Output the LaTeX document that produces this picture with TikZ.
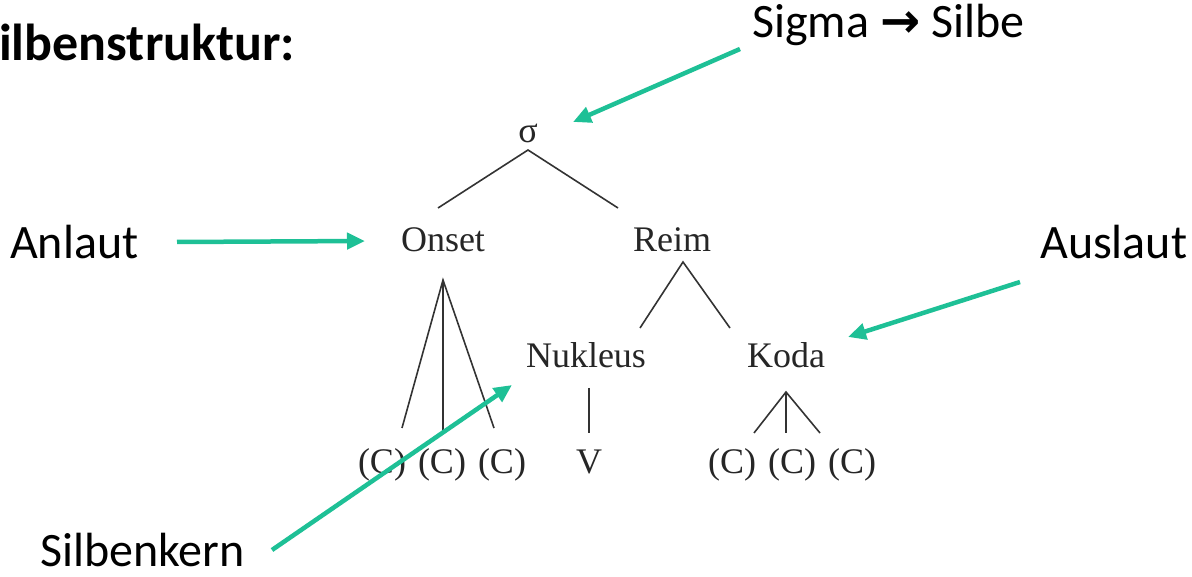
\documentclass[tikz,border=0pt]{standalone}
\usepackage{fontspec}
\setmainfont{Carlito}
\newfontfamily\treefont{Liberation Serif}
\newfontfamily\arrowfont{DejaVu Sans}
\usetikzlibrary{arrows.meta}
\definecolor{pointgreen}{RGB}{30,192,150}

\begin{document}
\begin{tikzpicture}[x=1pt, y=-1pt,
  lbl/.style={font=\fontsize{48}{56}\selectfont, inner sep=0pt, anchor=base west},
  tnode/.style={font=\treefont\fontsize{36}{42}\selectfont, inner sep=0pt, text=black!85, anchor=base},
  branch/.style={line width=1.6pt, draw=black!80},
  pointer/.style={-{Triangle[length=18pt,width=16pt]}, line width=4.5pt, draw=pointgreen}]
  \useasboundingbox (0,0) rectangle (1192,577);

  \node[anchor=base west, inner sep=0pt, font=\bfseries\fontsize{52}{60}\selectfont] (title) at (-1,61) {ilbenstruktur:};

  % syllable tree
  \node[tnode] (sigma) at (528,143) {σ};
  \node[tnode] (onset) at (443,252) {Onset};
  \node[tnode] (reim) at (672,252) {Reim};
  \node[tnode] (nukleus) at (586,368) {Nukleus};
  \node[tnode] (koda) at (786,368) {Koda};
  \node[tnode] (v) at (589,473) {V};
  \foreach \x/\n in {382/on1, 442/on2, 502/on3, 732/ko1, 792/ko2, 852/ko3}
    \node[tnode] (\n) at (\x,473) {(C)};

  \draw[branch] ([xshift=-5pt,yshift=44pt]onset.base) -- ([yshift=-7pt]sigma.base) -- ([xshift=-54pt,yshift=44pt]reim.base);
  \draw[branch] ([xshift=54pt,yshift=40pt]nukleus.base) -- ([xshift=11pt,yshift=-10pt]reim.base) -- ([xshift=-56pt,yshift=40pt]koda.base);
  \draw[branch] ([xshift=20pt,yshift=45pt]on1.base) -- ([yshift=-28pt]onset.base) -- ([xshift=-8pt,yshift=45pt]on3.base);
  \draw[branch] ([yshift=-28pt]onset.base) -- ([xshift=1pt,yshift=43pt]on2.base);
  \draw[branch] ([xshift=3pt,yshift=-20pt]nukleus.base) -- ([yshift=40pt]v.base);
  \draw[branch] ([xshift=22pt,yshift=40pt]ko1.base) -- ([yshift=-24pt]koda.base) -- ([xshift=-32pt,yshift=40pt]ko3.base);
  \draw[branch] ([yshift=-24pt]koda.base) -- ([xshift=-6pt,yshift=40pt]ko2.base);

  % labels and pointers
  \node[lbl] (siglabel) at (752,38) {Sigma {\arrowfont\bfseries →} Silbe};
  \node[lbl] (anlaut) at (10,259) {Anlaut};
  \node[lbl] (auslaut) at (1040,259) {Auslaut};
  \node[lbl] (kern) at (40,566) {Silbenkern};

  \draw[pointer] ([xshift=-12pt,yshift=-11pt]siglabel.base west) -- ([xshift=45pt,yshift=21pt]sigma.base);
  \draw[pointer] ([xshift=167pt,yshift=17pt]anlaut.base west) -- ([xshift=-78pt,yshift=11pt]onset.base);
  \draw[pointer] ([xshift=-20pt,yshift=-23pt]auslaut.base west) -- ([xshift=62pt,yshift=31pt]koda.base);
  \draw[pointer] ([xshift=232pt,yshift=16pt]kern.base west) -- ([xshift=-74pt,yshift=-17pt]nukleus.base);
\end{tikzpicture}
\end{document}
